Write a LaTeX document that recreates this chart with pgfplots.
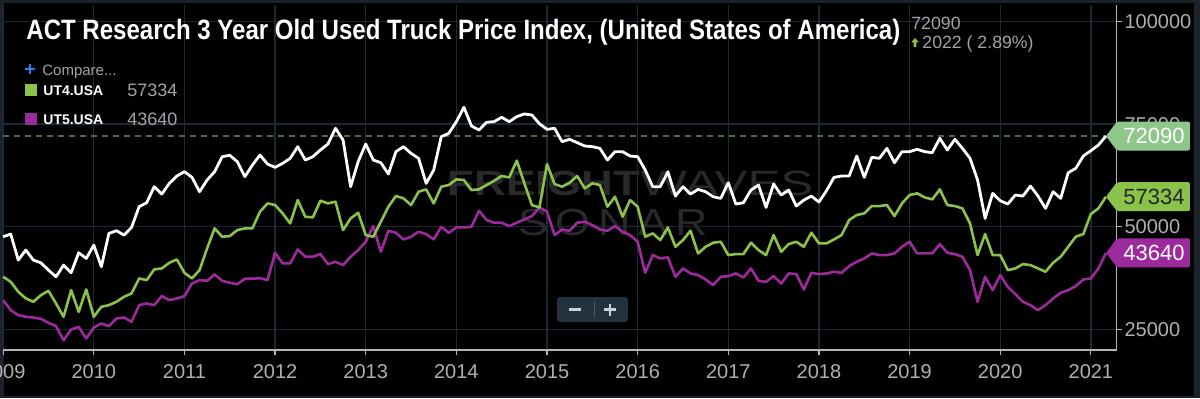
\documentclass[border=0pt]{standalone}
\usepackage{fontspec}
\setmainfont{Liberation Sans}
\usepackage{graphicx}
\usepackage{pgfplots}
\usepackage{pgfplotstable}
\pgfplotsset{compat=1.18}
\definecolor{framec}{HTML}{1C222A}
\definecolor{gridc}{HTML}{1C2835}
\definecolor{axisc}{HTML}{B4B4B4}
\definecolor{tickc}{HTML}{B0B0B0}
\definecolor{greenc}{HTML}{8BC34A}
\definecolor{purpc}{HTML}{9C2A9C}
\definecolor{tagw}{HTML}{8FC78A}
\definecolor{dashc}{HTML}{4B6D3C}
\definecolor{wmc}{HTML}{292929}
\definecolor{btnc}{HTML}{243240}
\definecolor{btnsep}{HTML}{4B5A68}
\definecolor{btnt}{HTML}{C9D1D9}
\definecolor{grayt}{HTML}{A0A4A8}
\definecolor{bluec}{HTML}{2F80ED}

\pgfplotstableread{
m w g p
0 47580 37830 32140
1 48230 36610 29710
2 41890 34170 28490
3 44330 32550 28080
4 41890 31740 27920
5 41240 33360 27590
6 39450 34420 26620
7 37830 31330 25810
8 40670 28080 22390
9 38800 34580 24990
10 43680 29300 25640
11 42300 34740 22800
12 45550 28080 25480
13 40270 30520 26460
14 48390 30920 25810
15 49040 31740 27670
16 47980 32950 27920
17 49850 33770 26860
18 54890 37420 30920
19 55860 37020 31330
20 59760 39620 30920
21 57970 39860 33120
22 60570 41240 32140
23 62360 42050 32550
24 63420 38800 33120
25 62040 37420 36200
26 58540 39450 37020
27 61390 44730 36850
28 63420 49610 38400
29 67070 47580 36850
30 67400 47740 36370
31 65850 49200 36040
32 62200 49610 37340
33 65040 49610 37340
34 67480 53670 37500
35 65280 55700 37020
36 64470 55290 43680
37 65450 53260 41080
38 66670 50830 41080
39 69510 56510 44490
40 66260 52450 42700
41 67070 52290 42700
42 68700 56350 43350
43 70160 55700 40920
44 73980 56110 41480
45 71130 49200 40670
46 59760 52040 42700
47 65850 53420 44330
48 70160 47980 46360
49 66260 47580 50180
50 65610 51230 43920
51 62850 54890 49040
52 68290 57490 48550
53 69510 56920 46930
54 67880 55290 47580
55 66670 58540 48790
56 60570 59110 48230
57 63820 55700 46930
58 71950 59760 50010
59 72760 60170 48550
60 75600 61550 49850
61 79090 61390 49850
62 74540 58950 50010
63 73570 59110 53910
64 75440 60170 51640
65 75600 61220 50990
66 76660 62360 50990
67 75600 62040 50180
68 76820 66100 50990
69 77470 60570 51800
70 77220 55290 52610
71 75090 54720 54720
72 73730 65280 53670
73 73980 60410 47980
74 70730 59760 49360
75 71300 60740 49040
76 70480 62360 50990
77 69670 59350 51230
78 69510 60570 50420
79 69100 60170 49360
80 66260 54890 49040
81 68290 57320 50180
82 68290 52450 48790
83 67230 56510 47980
84 67070 54890 46360
85 63820 47580 38800
86 59760 48390 43110
87 59760 46760 42300
88 63420 49850 42540
89 57490 45140 37830
90 59760 46760 39860
91 57970 49040 38640
92 59110 43510 38230
93 58540 45140 37180
94 57320 46110 35800
95 56920 46360 37830
96 60740 43110 37990
97 55540 43350 38640
98 55860 43350 37670
99 58950 46110 39860
100 60170 44330 36850
101 54720 43110 36610
102 60410 47980 37990
103 57730 43920 36200
104 58950 45790 38640
105 55050 46360 38480
106 56510 45140 34740
107 57490 48550 38800
108 56020 45950 38480
109 58790 45950 38640
110 62040 46930 39050
111 62360 47980 38800
112 62360 51640 40430
113 67230 52860 41480
114 62040 53260 42300
115 66910 55050 43510
116 66670 55050 43110
117 69100 55290 43110
118 65610 52610 43510
119 68290 55700 45140
120 68290 57730 46360
121 68860 58140 43510
122 68290 57160 43510
123 68050 56670 43510
124 71540 59110 45790
125 68700 55290 43680
126 71300 55050 43350
127 69100 54480 42700
128 66670 50830 39450
129 61390 43110 31740
130 52040 48230 37830
131 58140 43110 34580
132 56350 43110 38230
133 55540 39450 35390
134 57730 39860 33600
135 57490 40920 31740
136 59920 40670 30920
137 57490 39860 29710
138 54480 39050 30920
139 58540 41240 32550
140 56920 42700 33930
141 63170 45140 34580
142 64230 47580 35550
143 67230 48230 37180
144 68530 53100 37420
145 69910 54480 39860
146 72090 57334 43640
}\truckdata

\begin{document}
\begin{tikzpicture}
% frame and plot background
\fill[framec] (0,0) rectangle (600pt,199pt);
\fill[black] (2pt,1pt) rectangle (597pt,197.5pt);
% watermark
\node[anchor=base west, inner sep=0pt, text=wmc] at (223.5pt,101.5pt)
  {\resizebox{96.5pt}{\height}{\bfseries\fontsize{17.5}{17.5}\selectfont FREIGHT}};
\node[anchor=base west, inner sep=0pt, text=wmc] at (320pt,101.5pt)
  {\resizebox{86.5pt}{\height}{\fontsize{17.5}{17.5}\selectfont WAVES}};
\node[anchor=base west, inner sep=0pt, text=wmc] at (259pt,81.5pt)
  {\resizebox{95pt}{\height}{\fontsize{18.9}{18.9}\selectfont S\,O\,N\,A\,R}};

\begin{axis}[
  at={(1.575pt,24pt)}, anchor=south west, scale only axis,
  width=556.7pt, height=172.5pt,
  xmin=0, xmax=147.4, ymin=20000, ymax=104000,
  axis x line*=bottom, axis y line*=right,
  axis line style={draw=axisc, line width=0.6pt},
  xtick={0,12,24,36,48,60,72,84,96,108,120,132,144},
  xticklabels={2009,2010,2011,2012,2013,2014,2015,2016,2017,2018,2019,2020,2021},
  ytick={25000,50000,75000,100000},
  tick align=outside, major tick length=2.5pt,
  tick style={draw=axisc, line width=0.6pt},
  grid=major, major grid style={draw=gridc, line width=0.7pt},
  ticklabel style={text=tickc, font=\fontsize{10}{12}\selectfont},
  xticklabel style={yshift=-1pt},
  yticklabel style={xshift=-2pt},
  /pgf/number format/.cd, fixed, precision=0, 1000 sep={}, assume math mode=true,
  /pgfplots/.cd,
  scaled y ticks=false,
  clip=false,
]
\addplot[dashc, line width=0.6pt, dash pattern=on 3pt off 2.5pt, forget plot] coordinates {(0,72090) (147.4,72090)};
\addplot[purpc, line width=1.3pt, line join=round] table[x=m,y=p]{\truckdata} coordinate[pos=1] (endP);
\addplot[greenc, line width=1.3pt, line join=round] table[x=m,y=g]{\truckdata} coordinate[pos=1] (endG);
\addplot[white, line width=1.4pt, line join=round] table[x=m,y=w]{\truckdata} coordinate[pos=1] (endW);
\end{axis}

% right frame strip over clipped tick label
\fill[framec] (597pt,0) rectangle (600pt,199pt);

% end-of-line tags
\fill[tagw, rounded corners=1pt] (endW) -- ++(5.5pt,7.25pt) -- ++(36.5pt,0) -- ++(0,-14.5pt) -- ++(-36.5pt,0) -- cycle;
\node[text=white, font=\fontsize{11}{11}\selectfont] at ([xshift=24pt]endW) {72090};
\fill[greenc, rounded corners=1pt] (endG) -- ++(5.5pt,7.25pt) -- ++(36.5pt,0) -- ++(0,-14.5pt) -- ++(-36.5pt,0) -- cycle;
\node[text=black!85, font=\fontsize{11}{11}\selectfont] at ([xshift=24pt]endG) {57334};
\fill[purpc, rounded corners=1pt] (endP) -- ++(5.5pt,7.25pt) -- ++(36.5pt,0) -- ++(0,-14.5pt) -- ++(-36.5pt,0) -- cycle;
\node[text=white, font=\fontsize{11}{11}\selectfont] at ([xshift=24pt]endP) {43640};

% title
\node[anchor=base west, inner sep=0pt, text=white] at (13pt,179.5pt)
  {\resizebox{437pt}{\height}{\bfseries\fontsize{14}{14}\selectfont ACT Research 3 Year Old Used Truck Price Index, (United States of America)}};
% last value info
\node[anchor=base west, inner sep=0pt, text=grayt, font=\fontsize{8.85}{9}\selectfont] at (455.5pt,184.3pt) {72090};
\node[anchor=base west, inner sep=0pt, text=grayt, font=\fontsize{8.85}{9}\selectfont] at (461pt,174.8pt) {2022 ( 2.89\%)};
\fill[greenc] (457.5pt,180pt) -- (455.6pt,177.8pt) -- (456.8pt,177.8pt) -- (456.8pt,175.4pt) -- (458.2pt,175.4pt) -- (458.2pt,177.8pt) -- (459.4pt,177.8pt) -- cycle;

% legend
\draw[bluec, line width=0.9pt] (12.6pt,164.5pt) -- (17.4pt,164.5pt) (15pt,162.1pt) -- (15pt,166.9pt);
\node[anchor=base west, inner sep=0pt, text=grayt, font=\fontsize{7.5}{8}\selectfont] at (21pt,161.2pt) {Compare...};
\fill[greenc] (12.5pt,151pt) rectangle (18.5pt,157pt);
\node[anchor=base west, inner sep=0pt, text=white, font=\bfseries\fontsize{7}{8}\selectfont] at (21.5pt,151.5pt) {UT4.USA};
\node[anchor=base west, inner sep=0pt, text=grayt, font=\fontsize{9}{9}\selectfont] at (63.5pt,150.7pt) {57334};
\fill[purpc] (12.5pt,136.5pt) rectangle (18.5pt,142.5pt);
\node[anchor=base west, inner sep=0pt, text=white, font=\bfseries\fontsize{7}{8}\selectfont] at (21.5pt,137pt) {UT5.USA};
\node[anchor=base west, inner sep=0pt, text=grayt, font=\fontsize{9}{9}\selectfont] at (63.5pt,136.5pt) {43640};

% zoom buttons
\fill[btnc, rounded corners=1.5pt] (278.5pt,38pt) rectangle (314pt,50.5pt);
\draw[btnsep, line width=0.4pt] (297pt,40.5pt) -- (297pt,48pt);
\draw[btnt, line width=1.2pt] (284.5pt,44.25pt) -- (290.5pt,44.25pt);
\draw[btnt, line width=1.2pt] (302pt,44.25pt) -- (308pt,44.25pt) (305pt,41.25pt) -- (305pt,47.25pt);

\pgfresetboundingbox
\useasboundingbox (0,0) rectangle (600pt,199pt);
\end{tikzpicture}
\end{document}
